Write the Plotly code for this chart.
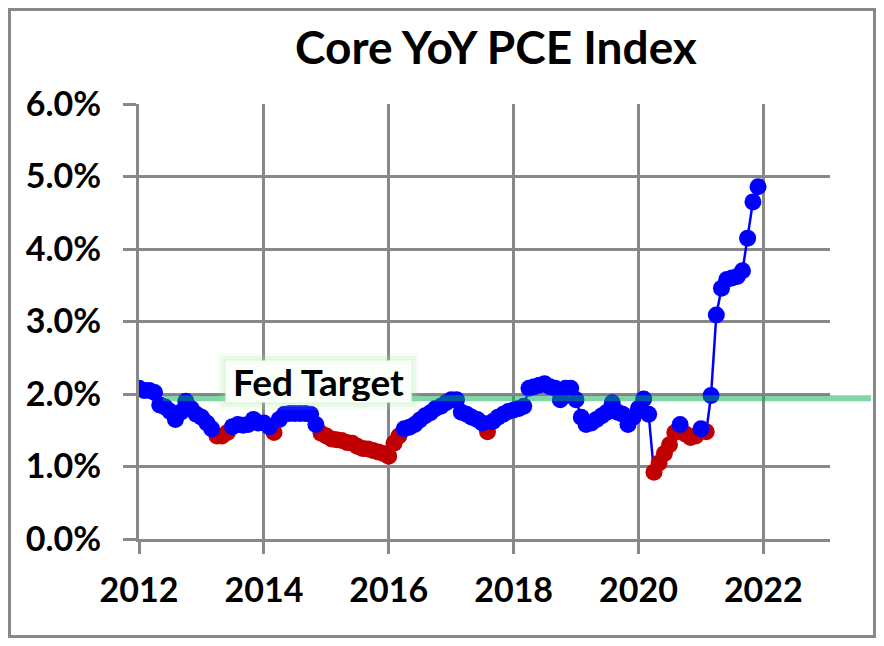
import pandas as pd
import plotly.graph_objects as go

# Core PCE, year over year, %, monthly Jan 2012 .. Dec 2021
pce_2012 = [2.08, 2.05, 2.05, 2.02, 1.85, 1.82, 1.76, 1.65, 1.75, 1.90, 1.80, 1.72]
pce_2013 = [1.68, 1.60, 1.52, 1.42, 1.42, 1.47, 1.55, 1.58, 1.57, 1.58, 1.65, 1.60]
pce_2014 = [1.60, 1.55, 1.47, 1.65, 1.72, 1.73, 1.73, 1.73, 1.73, 1.72, 1.58, 1.46]
pce_2015 = [1.42, 1.38, 1.37, 1.36, 1.33, 1.32, 1.28, 1.25, 1.24, 1.22, 1.20, 1.18]
pce_2016 = [1.14, 1.32, 1.42, 1.52, 1.54, 1.58, 1.64, 1.70, 1.74, 1.80, 1.83, 1.88]
pce_2017 = [1.92, 1.92, 1.75, 1.72, 1.68, 1.65, 1.60, 1.48, 1.62, 1.68, 1.72, 1.76]
pce_2018 = [1.78, 1.80, 1.83, 2.08, 2.10, 2.12, 2.14, 2.10, 2.08, 1.92, 2.08, 2.08]
pce_2019 = [1.92, 1.68, 1.58, 1.60, 1.65, 1.70, 1.75, 1.88, 1.75, 1.72, 1.58, 1.68]
pce_2020 = [1.80, 1.93, 1.72, 0.92, 1.05, 1.18, 1.30, 1.47, 1.58, 1.45, 1.40, 1.42]
pce_2021 = [1.52, 1.48, 1.98, 3.09, 3.46, 3.58, 3.60, 3.62, 3.70, 4.15, 4.65, 4.86]

pce = (pce_2012 + pce_2013 + pce_2014 + pce_2015 + pce_2016 +
       pce_2017 + pce_2018 + pce_2019 + pce_2020 + pce_2021)
fechas = pd.date_range("2012-01-01", periods=len(pce), freq="MS")

umbral_rojo = 1.5
fed_target = 1.94
y_ticks = [0, 1, 2, 3, 4, 5, 6]
y_labels = [f"{v:.1f}%" for v in y_ticks]

AZUL = "#0000FF"
ROJO = "#C00000"
GRIS = "#888888"
FUENTE = "Lato"

# the page body has an 8px margin, so the figure starts 8px in
OFF = 8
W, H = 884 - 2 * OFF, 646 - 2 * OFF
# plot area, in window pixels
L, R, T, B = 139, 830, 104, 539


def px_x(p):
    return (p - L) / (R - L)


def px_y(p):
    return (B - p) / (B - T)


df = pd.DataFrame({"fecha": fechas, "pce": pce})
bajo = df[df["pce"] < umbral_rojo]
alto = df[df["pce"] >= umbral_rojo]

fig = go.Figure()
fig.add_trace(go.Scatter(x=df["fecha"], y=df["pce"], mode="lines",
                         line=dict(color=AZUL, width=2.5), hoverinfo="skip"))
fig.add_trace(go.Scatter(x=bajo["fecha"], y=bajo["pce"], mode="markers",
                         marker=dict(color=ROJO, size=17)))
fig.add_trace(go.Scatter(x=alto["fecha"], y=alto["pce"], mode="markers",
                         marker=dict(color=AZUL, size=17)))

# Fed target line, runs past the right edge of the plot
fig.add_shape(type="line", xref="paper", yref="paper",
              x0=px_x(163), x1=px_x(871), y0=fed_target / 6, y1=fed_target / 6,
              line=dict(color="rgba(0,176,80,0.5)", width=6), layer="above")

# soft glow behind the label
for d, a in [(9, 0.10), (6, 0.14), (3, 0.20)]:
    fig.add_shape(type="rect", xref="paper", yref="paper",
                  x0=px_x(227 - d), x1=px_x(410 + d),
                  y0=px_y(401 + d), y1=px_y(362 - d),
                  fillcolor=f"rgba(160,235,160,{a})", line=dict(width=0),
                  layer="above")

fig.add_annotation(x=px_x(318.5), y=px_y(381.5), xref="paper", yref="paper",
                   xanchor="center", yanchor="middle",
                   text="<b>Fed Target</b>", showarrow=False,
                   width=183, height=39, bgcolor="rgba(250,255,250,1)",
                   font=dict(family=FUENTE, size=37, color="black"))

# outer chart border
fig.add_shape(type="rect", xref="paper", yref="paper",
              x0=px_x(OFF + 1.5), x1=px_x(884 - OFF - 1.5),
              y0=px_y(646 - OFF - 1.5), y1=px_y(OFF + 1.5),
              line=dict(color=GRIS, width=3), layer="below")

fig.update_layout(
    width=W, height=H,
    margin=dict(l=L - OFF, r=W - (R - OFF), t=T - OFF, b=H - (B - OFF)),
    paper_bgcolor="white", plot_bgcolor="white",
    showlegend=False,
    title=dict(text="<b>Core YoY PCE Index</b>", x=(496 - OFF) / W,
               xref="container", xanchor="center",
               y=1 - (48 - OFF) / H, yanchor="middle",
               font=dict(family=FUENTE, size=46, color="black")),
    font=dict(family=FUENTE, color="black"),
)

fig.update_xaxes(
    type="date", range=["2012-01-01", "2023-01-26"],
    tick0="2012-01-01", dtick="M24", tickformat="%Y",
    showgrid=True, gridcolor=GRIS, gridwidth=3,
    showline=True, linecolor=GRIS, linewidth=3,
    ticks="outside", ticklen=12, tickwidth=3, tickcolor=GRIS,
    tickfont=dict(family=FUENTE, size=34, color="black", weight="bold"),
    ticklabelstandoff=7, automargin=False,
)
fig.update_yaxes(
    range=[0, 6], tickvals=y_ticks, ticktext=y_labels,
    showgrid=True, gridcolor=GRIS, gridwidth=3,
    zeroline=True, zerolinecolor=GRIS, zerolinewidth=3,
    showline=True, linecolor=GRIS, linewidth=3,
    ticks="outside", ticklen=13, tickwidth=3, tickcolor=GRIS,
    tickfont=dict(family=FUENTE, size=34, color="black", weight="bold"),
    ticklabelstandoff=15, automargin=False,
)

fig.write_html("out.html")
